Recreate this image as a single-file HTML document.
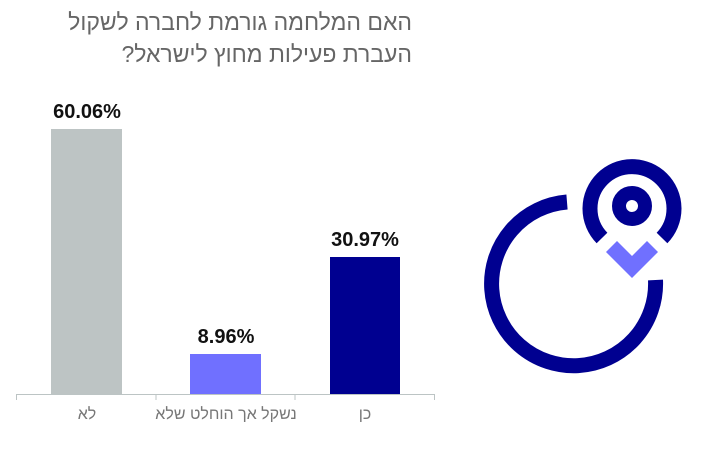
<!DOCTYPE html>
<html><head><meta charset="utf-8"><style>
body{margin:0;width:716px;height:469px;background:#fff;overflow:hidden;font-family:"Liberation Sans",sans-serif}
.t{position:absolute;right:304px;direction:rtl;color:#666;font-size:23px;line-height:32px;top:6px;text-align:right;white-space:nowrap}
</style></head><body>
<div class="t">האם המלחמה גורמת לחברה לשקול<br>העברת פעילות מחוץ לישראל?</div>
<svg width="716" height="469" style="position:absolute;left:0;top:0">
<rect x="51" y="129" width="71" height="265" fill="#bdc4c4"/>
<rect x="190" y="354" width="71" height="40" fill="#7070ff"/>
<rect x="330" y="257" width="70" height="137" fill="#000090"/>
<g font-family="Liberation Sans,sans-serif" font-weight="bold" font-size="20" fill="#111" text-anchor="middle">
<text x="87" y="118">60.06%</text>
<text x="226" y="343">8.96%</text>
<text x="365" y="246">30.97%</text>
</g>
<path d="M16.5 400V394.5H434.5V400M156 394v6M295 394v6" stroke="#bcc4c4" fill="none"/>
<g font-family="Liberation Sans,sans-serif" font-size="16" fill="#777" text-anchor="middle" direction="rtl">
<text x="87" y="419">לא</text>
<text x="226" y="419">נשקל אך הוחלט שלא</text>
<text x="365" y="419">כן</text>
</g>
<path d="M567 202 A82 82 0 1 0 655.5 280" stroke="#000090" stroke-width="15" fill="none"/>
<path d="M602 238 A42 42 0 1 1 662 238" stroke="#000090" stroke-width="15" fill="none"/>
<circle cx="632" cy="206" r="13" stroke="#000090" stroke-width="14" fill="none"/>
<polygon points="617,241 632,256 647,241 658,252 632,278 606,252" fill="#7070ff"/>
</svg>
</body></html>
